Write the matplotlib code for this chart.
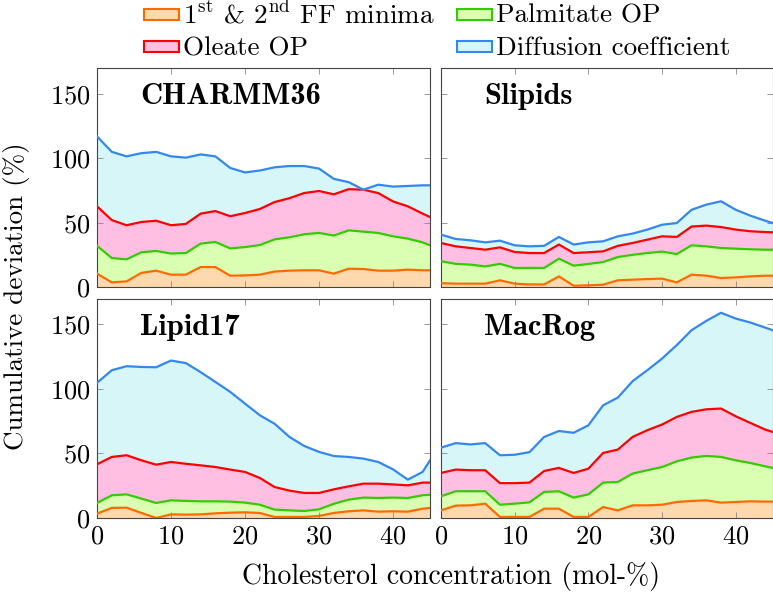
import matplotlib
matplotlib.use("Agg")
import matplotlib.pyplot as plt
from matplotlib.patches import Rectangle

plt.rcParams['font.family'] = 'cmr10'
plt.rcParams['mathtext.fontset'] = 'cm'
plt.rcParams['axes.formatter.use_mathtext'] = True

# cholesterol concentration (mol-%)
chol = [0, 2, 4, 6, 8, 10, 12, 14, 16, 18, 20, 22, 24, 26, 28, 30, 32, 34, 36, 38, 40, 42, 44, 45]

# cumulative deviation (%) per force field: minima, +palmitate, +oleate, +diffusion
charmm_min = [10.4, 3.6, 4.4, 11, 12.7, 9.6, 9.6, 15.5, 15.5, 8.8, 9, 9.6, 12, 12.7, 13, 13, 10.4, 14.2, 14, 12.7, 12.7, 13.5, 13, 13]
charmm_pal = [32, 22.5, 21.5, 27, 28, 26, 26.4, 33.7, 35, 30, 31, 32.6, 37, 38.6, 41, 42, 40, 44, 43, 42, 39.4, 37.6, 34.7, 32.4]
charmm_ole = [62.7, 52, 48, 50.5, 51.5, 48, 49, 57, 59, 55, 57.5, 60.6, 66, 69, 73, 74.6, 72, 76, 75.6, 73, 66.5, 62.7, 57, 54.4]
charmm_dif = [117, 105, 101.5, 104, 105, 101.5, 100.5, 103, 101.5, 92.5, 89, 90.5, 93, 94, 94, 92, 84, 81.5, 75.6, 79.5, 78, 78.5, 79, 79]

slip_min = [3, 2.6, 2.6, 2.6, 5.2, 2.6, 2, 2, 8.3, 1, 1.3, 1.8, 5.2, 5.7, 6.2, 6.5, 3.6, 9.6, 8.8, 7, 7.5, 8.3, 8.8, 8.8]
slip_pal = [20, 18, 17.4, 16, 18, 14.8, 14.8, 14.8, 22, 16.6, 17.9, 19.4, 23.3, 25, 26.4, 27.5, 25.6, 32.4, 31.6, 30.3, 29.8, 29.3, 29, 29]
slip_ole = [34.2, 31.6, 30.3, 29, 30.8, 27.2, 26.4, 26.4, 33, 26.4, 27, 27.7, 32, 34.2, 36.8, 39.4, 38.9, 47, 47.7, 46.6, 44.6, 43.3, 42.7, 42.5]
slip_dif = [40.7, 37.3, 36.3, 34.7, 36, 32.4, 31.6, 32, 38.9, 33, 34.7, 35.5, 39.4, 41.5, 44.6, 48.4, 49.7, 60, 64, 66.6, 60, 55.4, 51.5, 49.7]

lip_min = [3.4, 7.8, 8, 3.9, 0, 2.8, 2.6, 2.8, 3.6, 4.1, 4.4, 3.9, 0.8, 0.8, 0.8, 1.6, 3.9, 5.2, 5.9, 4.9, 5.2, 4.9, 7.2, 7.8]
lip_pal = [11.6, 17.6, 18.3, 15, 11.6, 13.7, 13.2, 12.9, 12.9, 12.7, 11.9, 10.3, 6.5, 5.9, 5.4, 6.7, 11, 14.2, 15.8, 15.5, 15.8, 15.5, 17.6, 18]
lip_ole = [41.6, 47.3, 48.6, 44.7, 41.3, 43.4, 42, 40.8, 39.5, 37.5, 35.7, 31, 24, 21.2, 19.4, 19.4, 22.2, 24.5, 26.6, 26.6, 26, 25.3, 27.4, 27.4]
lip_dif = [104.7, 114.5, 117.6, 117, 116.8, 122, 120, 113, 105.4, 97.7, 88.6, 79.6, 73, 62.8, 55.8, 51.2, 48, 47.3, 46, 43.4, 37.7, 29.7, 35.7, 44.7]

mac_min = [5.9, 9.6, 9.8, 11.1, 0.8, 0.8, 0.8, 7.2, 7.2, 0.8, 0.8, 8.5, 5.9, 9.8, 9.8, 10.3, 12.4, 13.2, 13.7, 11.9, 12.4, 12.9, 12.7, 12.7]
mac_pal = [16.8, 20.7, 20.7, 20.7, 10.3, 11.1, 12.1, 20.2, 20.7, 15.8, 18.3, 27.4, 27.9, 34.4, 37, 39.5, 43.9, 46.8, 48.1, 47.3, 44.7, 42.6, 40, 38.8]
mac_ole = [34.9, 37.5, 37, 37, 27, 27, 27.4, 36.4, 38.8, 34.9, 38.2, 50.4, 53, 62.8, 68, 72.4, 78.3, 82.2, 84.2, 84.8, 78.8, 73.6, 68.5, 66.7]
mac_dif = [54.5, 58, 57, 58, 48.6, 49, 51, 62.8, 67.4, 66, 71.8, 87.3, 93.3, 106, 114.5, 123.5, 134, 145.5, 152.7, 159, 154.5, 151.4, 147.5, 145.5]

names = ['CHARMM36', 'Slipids', 'Lipid17', 'MacRog']
panels = [
    [charmm_min, charmm_pal, charmm_ole, charmm_dif],
    [slip_min, slip_pal, slip_ole, slip_dif],
    [lip_min, lip_pal, lip_ole, lip_dif],
    [mac_min, mac_pal, mac_ole, mac_dif],
]

labels = [r'1$^{\mathrm{st}}$ & 2$^{\mathrm{nd}}$ FF minima', 'Palmitate OP', 'Oleate OP', 'Diffusion coefficient']
line_cols = ['#ff6a00', '#33cc00', '#ff0000', '#3388ee']
fill_cols = ['#ffd9ae', '#daffb3', '#ffbfe2', '#d6f6f8']

fig = plt.figure(figsize=(7.73, 5.93), dpi=100)
pos = [
    [0.1255, 0.516, 0.4308, 0.369],
    [0.5705, 0.516, 0.4290, 0.369],
    [0.1255, 0.1265, 0.4308, 0.370],
    [0.5705, 0.1265, 0.4290, 0.370],
]

for i, (name, series) in enumerate(zip(names, panels)):
    ax = fig.add_axes(pos[i])
    lower = [0] * len(chol)
    for s, lc, fc in zip(series, line_cols, fill_cols):
        ax.fill_between(chol, lower, s, color=fc, lw=0, zorder=1)
        lower = s
    for s, lc in zip(series, line_cols):
        ax.plot(chol, s, color=lc, lw=1.6, zorder=3)
    ax.set_xlim(0, 45)
    ax.set_ylim(0, 170)
    ax.set_xticks([0, 10, 20, 30, 40])
    ax.set_yticks([0, 50, 100, 150])
    ax.tick_params(direction='in', top=True, right=True, length=4, width=0.6,
                   color='#888888', labelsize=19, pad=5)
    if i % 2 == 1:
        ax.tick_params(labelleft=False)
    if i < 2:
        ax.tick_params(labelbottom=False)
    for sp in ax.spines.values():
        sp.set_color('#444444')
        sp.set_linewidth(0.8)
    ax.text(0.13, 0.835, name, transform=ax.transAxes, fontsize=22,
            family='cmb10', ha='left', va='baseline', zorder=5)

fig.text(0.021, 0.501, 'Cumulative deviation (%)', rotation=90, fontsize=19.5,
         ha='center', va='center')
fig.text(0.584, 0.027, 'Cholesterol concentration (mol-%)', fontsize=20,
         ha='center', va='center')

# legend drawn by hand: two rows, two columns
leg_x = [0.1863, 0.5912]
leg_y = [0.976, 0.921]
leg_slots = [(0, 0), (1, 0), (0, 1), (1, 1)]  # (column, row) for each label
for (c, r), lab, lc, fc in zip(leg_slots, labels, line_cols, fill_cols):
    fig.add_artist(Rectangle((leg_x[c], leg_y[r] - 0.0093), 0.0453, 0.0186,
                             transform=fig.transFigure, facecolor=fc,
                             edgecolor=lc, lw=1.5))
    fig.text(leg_x[c] + 0.0504, leg_y[r] - 0.014, lab, fontsize=19.5,
             ha='left', va='baseline')

fig.savefig('out.png', dpi=100)
